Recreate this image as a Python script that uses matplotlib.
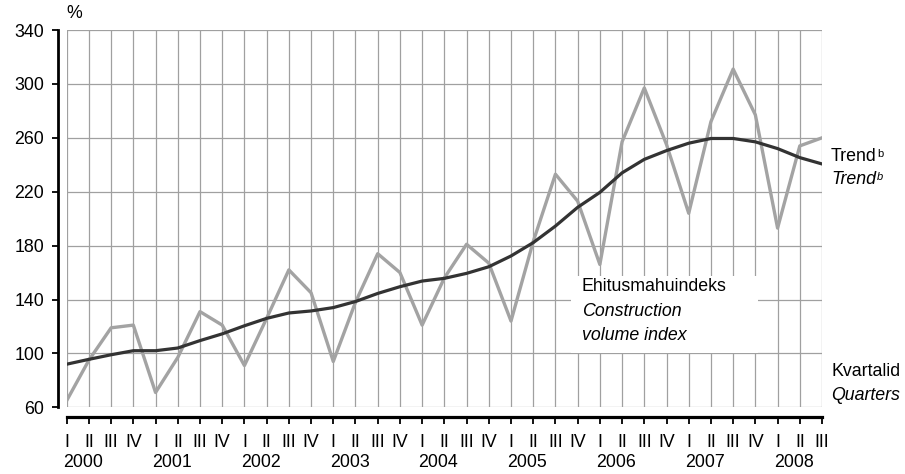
import matplotlib

matplotlib.use('Agg')
import matplotlib.pyplot as plt
from matplotlib.patches import Rectangle
from matplotlib.transforms import blended_transform_factory

plt.rcParams['font.family'] = ['Liberation Sans', 'DejaVu Sans']

years = ['2000', '2001', '2002', '2003', '2004', '2005', '2006', '2007', '2008']
quarters = ['I', 'II', 'III', 'IV'] * 8 + ['I', 'II', 'III']

# Construction volume index, 2000 I .. 2008 III
index = [65, 95, 119, 121, 71, 97, 131, 121, 91, 126, 162, 145,
         94, 138, 174, 160, 121, 156, 181, 167, 124, 183, 233, 213,
         166, 257, 297, 255, 204, 272, 311, 277, 193, 254, 260]
# Trend
trend = [92, 95.6, 99, 102, 102, 104, 109.5, 114.5, 120.5, 126, 130, 131.5,
         134, 138.5, 144.5, 149.5, 153.7, 155.7, 159.4, 164.3, 172.3, 182.2, 194.5, 208.4,
         219.5, 234, 244, 250.5, 256, 259.5, 259.5, 257, 252, 245.3, 240.6]

x = list(range(len(index)))
fs = 12.8

fig = plt.figure(figsize=(9.05, 4.74), dpi=100)
ax = fig.add_axes([0.0737, 0.1407, 0.9083 - 0.0737, 0.9367 - 0.1407])

ax.plot(x, index, color='#a3a3a3', lw=2.4, zorder=3)
ax.plot(x, trend, color='#333333', lw=2.3, zorder=4)

ax.set_xlim(0, len(index) - 1)
ax.set_ylim(60, 340)
ax.set_yticks(range(60, 341, 40))
ax.set_xticks(x)
ax.set_xticklabels([])

ax.grid(True, color='#a0a0a0', lw=0.9)
ax.set_axisbelow(True)
for gl in ax.get_xgridlines() + ax.get_ygridlines():
    gl.set_clip_on(False)

for s in ('top', 'right'):
    ax.spines[s].set_visible(False)
ax.spines['left'].set_position(('outward', 6.3))
ax.spines['left'].set_linewidth(2.0)
ax.spines['bottom'].set_position(('outward', 6.8))
ax.spines['bottom'].set_linewidth(2.3)
ax.tick_params(axis='y', length=4.5, width=1.3, pad=5.5, labelsize=fs)
ax.tick_params(axis='x', length=4.8, width=1.3)

# quarter and year labels under the axis
trans = blended_transform_factory(ax.transData, ax.transAxes)
for i, q in enumerate(quarters):
    ax.text(i, -0.092, q, transform=trans, fontsize=fs, ha='center', va='center')
for i, yr in enumerate(years):
    ax.text(i * 4 - 0.16, -0.1476, yr, transform=trans, fontsize=fs,
            ha='left', va='center')

# white label box over the grid
ax.add_patch(Rectangle((22.68, 100.3), 31.13 - 22.68, 157.7 - 100.3,
                       facecolor='white', edgecolor='none', zorder=2))
ax.text(23.18, 149.3, 'Ehitusmahuindeks', fontsize=fs, va='center', zorder=5)
ax.text(23.18, 131.2, 'Construction', fontsize=fs, style='italic', va='center', zorder=5)
ax.text(23.18, 113.4, 'volume index', fontsize=fs, style='italic', va='center', zorder=5)

# right side labels
fx = 831 / 905
t1 = fig.text(fx, 1 - 156.7 / 474, 'Trend', fontsize=fs, va='center')
t2 = fig.text(fx, 1 - 180 / 474, 'Trend', fontsize=fs, style='italic', va='center')
ax.annotate('b', xy=(1, 0.95), xycoords=t1, xytext=(0.3, 0), textcoords='offset points',
            fontsize=8, va='top', ha='left', annotation_clip=False)
ax.annotate('b', xy=(1, 0.95), xycoords=t2, xytext=(0.3, 0), textcoords='offset points',
            fontsize=8, style='italic', va='top', ha='left', annotation_clip=False)
fig.text(fx, 1 - 371.7 / 474, 'Kvartalid', fontsize=fs, va='center')
fig.text(fx, 1 - 395 / 474, 'Quarters', fontsize=fs, style='italic', va='center')
fig.text(66 / 905, 1 - 14 / 474, '%', fontsize=fs, va='center')

fig.savefig('out.png', dpi=100)
